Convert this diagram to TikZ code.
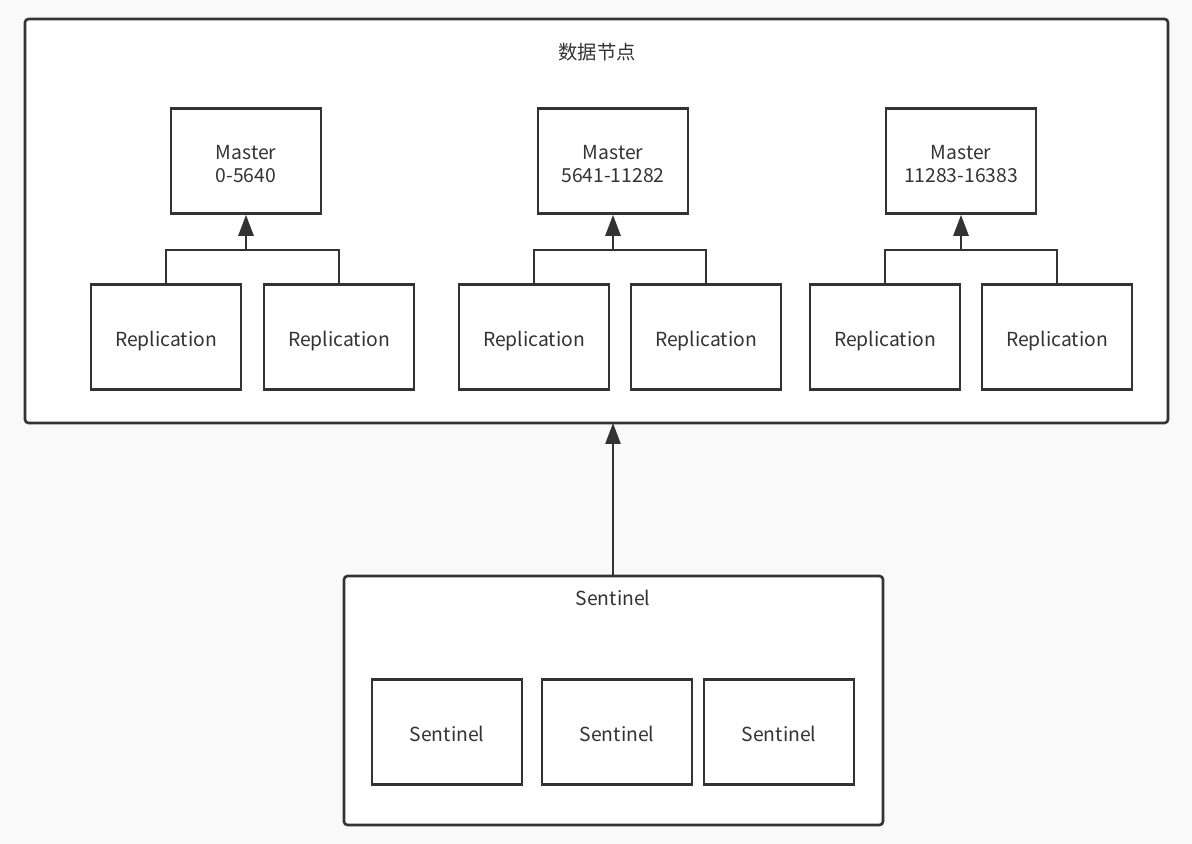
\documentclass[tikz,border=0pt]{standalone}
\usepackage{fontspec}
\setmainfont{Noto Sans CJK SC}
\usepackage{xcolor}
\usetikzlibrary{arrows.meta,positioning}
\definecolor{linegray}{HTML}{333333}
\definecolor{bggray}{HTML}{F9F9F9}
\tikzset{
    box/.style={draw=linegray, line width=1.5pt, fill=white, minimum width=3cm,
        minimum height=2.1cm, align=center, font=\fontsize{11}{13.5}\selectfont,
        text=linegray, inner sep=0pt, text height=10.5pt, text depth=0pt},
    masterbox/.style={box, text height=25pt},
    group/.style={draw=linegray, line width=1.5pt, fill=white, rounded corners=2pt},
    link/.style={draw=linegray, line width=1.5pt},
    uparrow/.style={link, -{Triangle[length=0.42cm,width=0.3cm]}},
    label/.style={font=\fontsize{11}{13.5}\selectfont, text=linegray}
}
\begin{document}
\begin{tikzpicture}[x=0.02cm,y=-0.02cm]
    \fill[bggray] (0,0) rectangle (1192,844);
    \useasboundingbox (0,0) rectangle (1192,844);
    % data nodes
    \draw[group] (25,19) coordinate (dtl) rectangle (1168,423) coordinate (dbr);
    \node[label] (dtitle) at (597,52) {数据节点};
    \node[masterbox] (m1) at (246,161) {Master\\0-5640};
    \node[masterbox] (m2) at (613,161) {Master\\5641-11282};
    \node[masterbox] (m3) at (961,161) {Master\\11283-16383};
    \node[box] (r11) at (166,337) {Replication};
    \node[box] (r12) at (339,337) {Replication};
    \node[box] (r21) at (534,337) {Replication};
    \node[box] (r22) at (706,337) {Replication};
    \node[box] (r31) at (885,337) {Replication};
    \node[box] (r32) at (1057,337) {Replication};
    \foreach \m/\a/\b in {m1/r11/r12, m2/r21/r22, m3/r31/r32}{
        \draw[link] (\a.north) |- (\m.south |- 0,250) coordinate (j\m) -| (\b.north);
        \draw[uparrow] (j\m) -- (\m.south);
    }
    % sentinels
    \draw[group] (344,576) rectangle (883,825);
    \node[label] (stitle) at (613,598) {Sentinel};
    \node[box] (s1) at (447,732) {Sentinel};
    \node[box] (s2) at (617,732) {Sentinel};
    \node[box] (s3) at (779,732) {Sentinel};
    \coordinate (sTop) at (613,576);
    \coordinate (dBot) at (613,423);
    \draw[uparrow] (sTop) -- (dBot);
\end{tikzpicture}
\end{document}
